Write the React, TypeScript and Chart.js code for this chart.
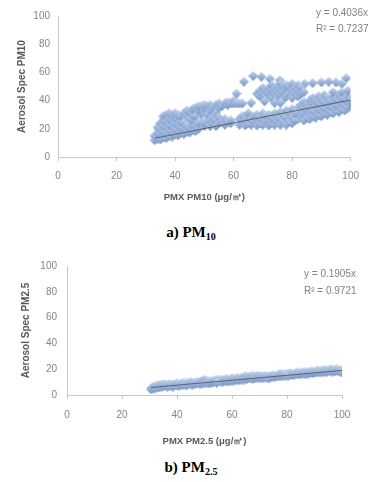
import React, { useEffect, useRef } from "react";
import { Chart, registerables } from "chart.js";

Chart.register(...registerables);
Chart.defaults.font.family = "'Liberation Sans', Arial, sans-serif";

// ---------- data ----------
const xTickValues = [0, 20, 40, 60, 80, 100];
const yTickValues = [0, 20, 40, 60, 80, 100];

// (a) PM10 : PMX PM10 vs Aerosol Spec PM10
const pm10Low: [number, number][] = [
  [33, 12], [33, 15], [34, 13], [34, 17], [34, 21], [35, 12.5], [35, 16], [35, 20], [35, 24],
  [36, 14], [36, 18], [36, 22], [36, 26], [36, 29], [37, 13.5], [37, 17], [37, 21], [37, 25], [37, 30],
  [38, 15], [38, 19], [38, 23], [38, 27], [38, 31], [39, 14.5], [39, 18], [39, 22], [39, 26], [39, 30],
  [40, 16], [40, 20], [40, 24], [40, 28], [40, 31], [41, 15.5], [41, 19], [41, 23], [41, 27], [41, 30],
  [42, 17], [42, 21], [42, 25], [42, 29], [43, 16.5], [43, 20], [43, 24], [43, 31], [44, 18], [44, 22],
  [44, 29], [44, 33], [45, 17.5], [45, 21], [45, 27], [45, 32], [46, 19], [46, 23], [46, 26], [46, 30],
  [46, 34], [47, 18.5], [47, 22], [47, 29], [47, 35], [48, 20], [48, 24], [48, 33], [48, 36],
];
const pm10Mid: [number, number][] = [
  [49, 23], [49, 26], [49, 31], [49, 36], [50, 22], [50, 25], [50, 34], [50, 37], [51, 24], [51, 30],
  [51, 36], [52, 22], [52, 26], [52, 33], [52, 37], [53, 24], [53, 28], [53, 35], [54, 22], [54, 26],
  [54, 31], [54, 37], [55, 24], [55, 28], [55, 35], [55, 38], [56, 25], [56, 36], [57, 23], [57, 27],
  [57, 38], [58, 25], [58, 37], [58, 39], [59, 24], [59, 26], [59, 38], [60, 38], [60, 40], [61, 45],
  [61, 38], [62, 38],
];
const pm10Band: [number, number][] = [
  [62, 23], [62, 27], [63, 25], [63, 29], [64, 22.5], [64, 26], [65, 24], [65, 28], [65, 31], [66, 23],
  [66, 27], [67, 25], [67, 29], [68, 22.5], [68, 26], [68, 30], [69, 24], [69, 28], [70, 23], [70, 27],
  [70, 31], [71, 25], [71, 29], [72, 22.5], [72, 26], [72, 30], [73, 24], [73, 28], [74, 23], [74, 27],
  [74, 31], [75, 25], [75, 29], [76, 23], [76, 27], [76, 32], [77, 25], [77, 30], [78, 23], [78, 28],
  [78, 33], [79, 25], [79, 31], [80, 24], [80, 28], [80, 34], [81, 26], [81, 31], [63, 38], [66, 38.5],
  [70.6, 39.5], [74, 38.5], [76, 38.5],
];
const pm10Upper: [number, number][] = [
  [68, 45], [69, 43], [69, 47], [70, 45], [70, 49], [71, 43], [71, 47], [72, 45], [72, 49], [73, 42],
  [73, 47], [73, 51], [74, 44], [74, 48], [75, 42], [75, 46], [75, 50], [76, 44], [76, 48], [76, 52],
  [77, 41], [77, 46], [77, 50], [78, 43], [78, 48], [78, 51], [79, 45], [79, 50], [80, 42], [80, 47],
  [80, 52], [81, 45], [81, 49], [82, 43], [82, 47], [82, 51], [83, 45], [83, 49], [84, 46],
];
const pm10Right: [number, number][] = [
  [82, 27], [82, 31], [82, 35], [83, 29], [83, 33], [83, 37], [84, 26], [84, 31], [84, 35], [84, 39],
  [85, 28], [85, 33], [85, 37], [86, 27], [86, 31], [86, 35], [86, 40], [87, 29], [87, 33], [87, 38],
  [87, 42], [88, 28], [88, 32], [88, 36], [88, 40], [89, 30], [89, 34], [89, 38], [89, 43], [90, 29],
  [90, 33], [90, 37], [90, 41], [91, 31], [91, 35], [91, 39], [91, 44], [92, 30], [92, 34], [92, 38],
  [92, 42], [93, 32], [93, 36], [93, 40], [94, 31], [94, 35], [94, 39], [94, 43], [94, 46], [95, 33],
  [95, 37], [95, 41], [96, 32], [96, 36], [96, 40], [96, 44], [97, 34], [97, 38], [97, 42], [97, 46],
  [98, 33], [98, 37], [98, 41], [99, 35], [99, 39], [99, 43], [99, 47], [100, 36], [100, 38], [100, 40],
];
const pm10Outliers: [number, number][] = [
  [63.5, 53.5], [66.7, 57.5], [69.5, 57], [72.4, 55.5], [75.8, 54.5], [84.3, 52], [87, 52.5], [90, 53],
  [92.5, 53.5], [95, 53], [98.5, 56], [97, 52],
];
const pm10Slope = 0.4036;
const pm10R2 = 0.7237;
const pm10TrendX = [33, 100];

// (b) PM2.5 : PMX PM2.5 vs Aerosol Spec PM2.5
const pm25A: [number, number][] = [
  [30.5, 4.5], [31, 6], [31.5, 5], [32, 7], [32.5, 5.5], [33, 7.5], [33.5, 6], [34, 8], [34.5, 6.5], [35, 8.5],
  [35.5, 7], [36, 8], [36.5, 6.5], [37, 8.5], [37.5, 7], [38, 8], [38.5, 6.5], [39, 8.5], [39.5, 7.5], [40, 9],
  [40.5, 7], [41, 8.5], [41.5, 7.5], [42, 9.5], [42.5, 8], [43, 9], [43.5, 7.5], [44, 9.5], [44.5, 8.5], [45, 10],
  [45.5, 8], [46, 9.5], [46.5, 8.5], [47, 10], [47.5, 9], [48, 10], [48.5, 8.5], [49, 11], [49.5, 9], [50, 12],
  [50.5, 9.5], [51, 11], [51.5, 9], [52, 10.5], [52.5, 9.5], [53, 11], [53.5, 10], [54, 11.5], [54.5, 9.5],
];
const pm25B: [number, number][] = [
  [55, 12], [55.5, 10.5], [56, 11.5], [56.5, 10], [57, 12], [57.5, 11], [58, 12.5], [58.5, 10.5], [59, 12],
  [59.5, 11], [60, 13], [60.5, 11], [61, 12.5], [61.5, 11.5], [62, 13.5], [62.5, 11.5], [63, 13], [63.5, 12],
  [64, 14], [64.5, 12], [65, 14.5], [65.5, 12.5], [66, 14], [66.5, 13], [67, 15], [67.5, 12.5], [68, 14.5],
  [68.5, 13], [69, 15], [69.5, 13.5], [70, 15], [70.5, 13], [71, 14.5], [71.5, 13.5], [72, 15], [72.5, 13.5],
  [73, 14.5], [73.5, 13], [74, 15], [74.5, 14], [75, 15.5], [75.5, 14], [76, 15], [76.5, 14.5], [77, 16],
  [77.5, 14.5], [78, 16.5], [78.5, 15], [79, 16], [79.5, 15],
];
const pm25C: [number, number][] = [
  [80, 16.5], [80.5, 15], [81, 17], [81.5, 15.5], [82, 16.5], [82.5, 15.5], [83, 17], [83.5, 16], [84, 17.5],
  [84.5, 16], [85, 17], [85.5, 16.5], [86, 18], [86.5, 16.5], [87, 17.5], [87.5, 16.5], [88, 18], [88.5, 17],
  [89, 18.5], [89.5, 17], [90, 18], [90.5, 17.5], [91, 19], [91.5, 17.5], [92, 18.5], [92.5, 17.5], [93, 19],
  [93.5, 18], [94, 19.5], [94.5, 18], [95, 19], [95.5, 18.5], [96, 20], [96.5, 18], [97, 19.5], [97.5, 18.5],
  [98, 20], [98.5, 18.5], [99, 19.5], [99.5, 18], [100, 19.5], [100, 18],
];
const pm25Slope = 0.1905;
const pm25R2 = 0.9721;
const pm25TrendX = [30.5, 100];

// ---------- helpers ----------
function makeDiamond(size: number): HTMLCanvasElement {
  const c = document.createElement("canvas");
  c.width = size;
  c.height = size;
  const g = c.getContext("2d")!;
  const grad = g.createLinearGradient(0, 0, 0, size);
  grad.addColorStop(0, "#CAD9EE");
  grad.addColorStop(0.5, "#9DB5DC");
  grad.addColorStop(1, "#7291C3");
  g.fillStyle = grad;
  const h = size / 2;
  g.beginPath();
  g.moveTo(h, 0);
  g.lineTo(size, h);
  g.lineTo(h, size);
  g.lineTo(0, h);
  g.closePath();
  g.fill();
  return c;
}

type Cfg = {
  groups: [number, number][][];
  slope: number;
  r2: number;
  trendX: number[];
  xTitle: string;
  yTitle: string;
  height: number;
  padRight: number;
  yWidth: number;
  xHeight: number;
  xTickPad: number;
  xTitlePadBottom: number;
  yTickPad: number;
  yTitlePad: number;
  eqX: number;
  eqY: number[];
};

function ScatterPanel({ cfg }: { cfg: Cfg }) {
  const ref = useRef<HTMLCanvasElement | null>(null);
  useEffect(() => {
    if (!ref.current) return;
    const diamond = makeDiamond(10);
    const tickFont = { size: 10 };
    const tickColor = "#858585";
    const axisColor = "#C8C8C8";
    const eqPlugin = {
      id: "eq",
      afterDraw(chart: any) {
        const ctx = chart.ctx;
        ctx.save();
        ctx.font = "10px 'Liberation Sans', Arial, sans-serif";
        ctx.fillStyle = "#808080";
        ctx.textBaseline = "middle";
        ctx.textAlign = "left";
        ctx.fillText(`y = ${cfg.slope.toFixed(4)}x`, cfg.eqX, cfg.eqY[0]);
        ctx.fillText(`R\u00B2 = ${cfg.r2.toFixed(4)}`, cfg.eqX, cfg.eqY[1]);
        ctx.restore();
      },
    };
    const datasets: any[] = [
      {
        data: cfg.trendX.map((x) => ({ x, y: cfg.slope * x })),
        showLine: true,
        borderColor: "#4A4A4A",
        borderWidth: 0.8,
        pointRadius: 0,
      },
      ...cfg.groups.map((g) => ({
        data: g.map(([x, y]) => ({ x, y })),
        pointStyle: diamond,
        pointRadius: 5,
        showLine: false,
      })),
    ];
    const chart = new Chart(ref.current, {
      type: "scatter",
      data: { datasets },
      plugins: [eqPlugin],
      options: {
        animation: false,
        responsive: false,
        events: [],
        layout: { padding: { top: 16, right: cfg.padRight, left: 0, bottom: 0 } },
        plugins: { legend: { display: false }, tooltip: { enabled: false } },
        scales: {
          x: {
            type: "linear",
            min: 0,
            max: 100,
            afterBuildTicks: (s: any) => {
              s.ticks = xTickValues.map((v) => ({ value: v }));
            },
            afterFit: (s: any) => {
              s.height = cfg.xHeight;
            },
            ticks: { font: tickFont, color: tickColor, padding: cfg.xTickPad, maxRotation: 0 },
            grid: { drawOnChartArea: false, drawTicks: true, tickLength: 4, color: axisColor },
            border: { display: true, color: axisColor },
            title: {
              display: true,
              text: cfg.xTitle,
              color: "#595959",
              font: { size: 9.5, weight: "bold" },
              padding: { top: 0, bottom: cfg.xTitlePadBottom },
            },
          },
          y: {
            type: "linear",
            min: 0,
            max: 100,
            afterBuildTicks: (s: any) => {
              s.ticks = yTickValues.map((v) => ({ value: v }));
            },
            afterFit: (s: any) => {
              s.width = cfg.yWidth;
            },
            ticks: { font: tickFont, color: tickColor, padding: cfg.yTickPad },
            grid: { drawOnChartArea: false, drawTicks: false, color: axisColor },
            border: { display: true, color: axisColor },
            title: {
              display: true,
              text: cfg.yTitle,
              color: "#595959",
              font: { size: 10, weight: "bold" },
              padding: { top: cfg.yTitlePad, bottom: 0 },
            },
          },
        },
      } as any,
    });
    return () => chart.destroy();
  }, [cfg]);
  return <canvas ref={ref} width={368} height={cfg.height} style={{ display: "block" }} />;
}

const cfgA: Cfg = {
  groups: [pm10Low, pm10Mid, pm10Band, pm10Upper, pm10Right, pm10Outliers],
  slope: pm10Slope,
  r2: pm10R2,
  trendX: pm10TrendX,
  xTitle: "PMX PM10 (\u03BCg/\u33A5)",
  yTitle: "Aerosol Spec PM10",
  height: 205,
  padRight: 17,
  yWidth: 58,
  xHeight: 48,
  xTickPad: 9,
  xTitlePadBottom: 2,
  yTickPad: 8,
  yTitlePad: 16,
  eqX: 316,
  eqY: [13, 29],
};

const cfgB: Cfg = {
  groups: [pm25A, pm25B, pm25C],
  slope: pm25Slope,
  r2: pm25R2,
  trendX: pm25TrendX,
  xTitle: "PMX PM2.5 (\u03BCg/\u33A5)",
  yTitle: "Aerosol Spec PM2.5",
  height: 200,
  padRight: 26,
  yWidth: 67,
  xHeight: 55,
  xTickPad: 10,
  xTitlePadBottom: 3,
  yTickPad: 10,
  yTitlePad: 20,
  eqX: 304,
  eqY: [24, 41],
};

const captionStyle: React.CSSProperties = {
  position: "absolute",
  left: 0,
  width: 382,
  textAlign: "center",
  fontFamily: "'Liberation Serif', 'Times New Roman', serif",
  fontWeight: "bold",
  fontSize: 15,
  lineHeight: "18px",
  color: "#000",
};
const subStyle: React.CSSProperties = {
  fontSize: 10,
  verticalAlign: "baseline",
  position: "relative",
  top: 3,
};

export default function App() {
  return (
    <div style={{ position: "absolute", left: 0, top: 0, width: 368, height: 482, background: "#fff" }}>
      <div style={{ position: "absolute", left: 0, top: 0 }}>
        <ScatterPanel cfg={cfgA} />
      </div>
      <div style={{ ...captionStyle, top: 223 }}>
        a) PM<span style={subStyle}>10</span>
      </div>
      <div style={{ position: "absolute", left: 0, top: 250 }}>
        <ScatterPanel cfg={cfgB} />
      </div>
      <div style={{ ...captionStyle, top: 458 }}>
        b) PM<span style={subStyle}>2.5</span>
      </div>
    </div>
  );
}
